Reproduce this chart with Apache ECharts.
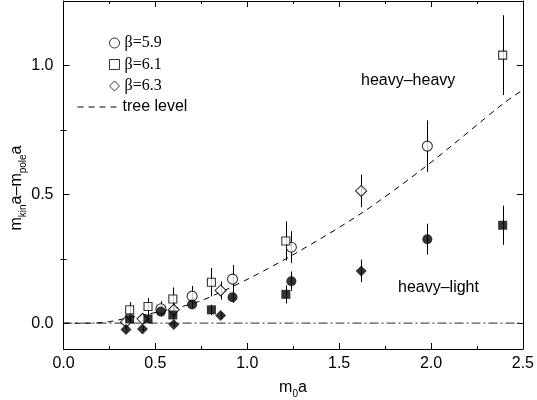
<!DOCTYPE html>
<html>
<head>
<meta charset="utf-8">
<script src="https://cdn.jsdelivr.net/npm/echarts@6/dist/echarts.min.js"></script>
<style>
html,body{margin:0;padding:0;background:#fff;}
#chart{width:537px;height:400px;}
</style>
</head>
<body>
<div id="chart"></div>
<script>
// ---- data ----
const xTickLabels = [0.0, 0.5, 1.0, 1.5, 2.0, 2.5];
const yTickLabels = [0.0, 0.5, 1.0];
const yMinorTicks = [0.25, 0.75];

// beta = 5.9 (circles)
const circleX = [0.53, 0.70, 0.92, 1.24, 1.98];
const hhCircle = [0.056, 0.105, 0.171, 0.295, 0.687];
const hhCircleErr = [0.03, 0.04, 0.055, 0.062, 0.10];
const hlCircle = [0.045, 0.073, 0.101, 0.163, 0.326];
const hlCircleErr = [0.012, 0.015, 0.022, 0.038, 0.06];

// beta = 6.1 (squares)
const squareX = [0.36, 0.46, 0.595, 0.805, 1.21, 2.39];
const hhSquare = [0.052, 0.065, 0.094, 0.159, 0.319, 1.04];
const hhSquareErr = [0.03, 0.033, 0.045, 0.055, 0.076, 0.155];
const hlSquare = [0.017, 0.017, 0.032, 0.052, 0.112, 0.38];
const hlSquareErr = [0.012, 0.012, 0.015, 0.02, 0.035, 0.076];

// beta = 6.3 (diamonds)
const diamondX = [0.34, 0.43, 0.60, 0.855, 1.62];
const hhDiamond = [0.005, 0.017, 0.052, 0.127, 0.513];
const hhDiamondErr = [0.02, 0.02, 0.025, 0.035, 0.063];
const hlDiamond = [-0.024, -0.022, -0.005, 0.03, 0.203];
const hlDiamondErr = [0.01, 0.01, 0.01, 0.012, 0.044];

// tree level curve
const treeX = [0, 0.15, 0.25, 0.32, 0.45, 0.63, 0.755, 1.008, 1.26, 1.62, 1.98, 2.395, 2.5];
const treeY = [0, 0, 0.006, 0.016, 0.034, 0.062, 0.089, 0.173, 0.27, 0.426, 0.613, 0.853, 0.905];

// zero reference line
const zeroX = [0, 2.5];
const zeroY = [0, 0];

// ---- chart ----
const chart = echarts.init(document.getElementById('chart'), null, {renderer: 'canvas'});
const SANS = 'Liberation Sans, Arial, sans-serif';
const SERIF = 'Liberation Serif, Times New Roman, serif';

function pairs(xs, ys) { return xs.map((x, i) => [x, ys[i]]); }
function errSeries(xs, ys, es) {
  return {
    type: 'custom', silent: true, z: 1,
    data: xs.map((x, i) => [x, ys[i] - es[i], ys[i] + es[i]]),
    encode: {x: 0, y: [1, 2]},
    renderItem: function (params, api) {
      const p1 = api.coord([api.value(0), api.value(1)]);
      const p2 = api.coord([api.value(0), api.value(2)]);
      const x = Math.round(p1[0]) + 0.5;
      return {type: 'line', shape: {x1: x, y1: p1[1], x2: x, y2: p2[1]},
              style: {stroke: '#000', lineWidth: 1}};
    }
  };
}
const openStyle = {color: '#fff', borderColor: '#000', borderWidth: 1.1};
const fillStyle = {color: '#000', borderColor: '#000', borderWidth: 0};

const xBase = {
  type: 'value', min: 0, max: 2.5, interval: 0.5,
  axisLine: {show: true, onZero: false, lineStyle: {color: '#000', width: 1}},
  axisTick: {show: true, inside: true, length: 6, lineStyle: {color: '#000'}},
  minorTick: {show: true, splitNumber: 2, length: 3, lineStyle: {color: '#000'}},
  splitLine: {show: false}, minorSplitLine: {show: false}
};
const yBase = {
  type: 'value', min: -0.1, max: 1.25,
  axisLine: {show: true, onZero: false, lineStyle: {color: '#000', width: 1}},
  splitLine: {show: false}
};

const option = {
  animation: false,
  backgroundColor: '#fff',
  grid: {left: 63.5, right: 11, top: 1, bottom: 51, show: false},
  xAxis: [
    Object.assign({}, xBase, {
      position: 'bottom',
      axisLabel: {show: true, margin: 7, color: '#000', fontFamily: SANS, fontSize: 16,
                  formatter: v => v.toFixed(1)}
    }),
    Object.assign({}, xBase, {position: 'top', axisLabel: {show: false}})
  ],
  yAxis: [
    Object.assign({}, yBase, {
      position: 'left',
      axisTick: {show: true, inside: true, length: 6, customValues: yTickLabels, lineStyle: {color: '#000'}},
      axisLabel: {show: true, margin: 10, color: '#000', fontFamily: SANS, fontSize: 16,
                  customValues: yTickLabels, formatter: v => Number(v).toFixed(1)}
    }),
    Object.assign({}, yBase, {
      position: 'left', axisLine: {show: false},
      axisTick: {show: true, inside: true, length: 3, customValues: yMinorTicks, lineStyle: {color: '#000'}},
      axisLabel: {show: false}
    }),
    Object.assign({}, yBase, {
      position: 'right',
      axisTick: {show: true, inside: true, length: 6, customValues: yTickLabels, lineStyle: {color: '#000'}},
      axisLabel: {show: false}
    }),
    Object.assign({}, yBase, {
      position: 'right', axisLine: {show: false},
      axisTick: {show: true, inside: true, length: 3, customValues: yMinorTicks, lineStyle: {color: '#000'}},
      axisLabel: {show: false}
    })
  ],
  legend: [
    {
      data: [
        {name: 'β=5.9', icon: 'circle'},
        {name: 'β=6.1', icon: 'rect'},
        {name: 'β=6.3', icon: 'diamond'}
      ],
      orient: 'vertical', left: 109, top: 35, padding: 0,
      itemWidth: 10, itemHeight: 10, itemGap: 5.5,
      itemStyle: {color: '#fff', borderColor: '#000', borderWidth: 1},
      textStyle: {fontFamily: SERIF, fontSize: 16, color: '#000', lineHeight: 16},
      selectedMode: false
    },
    {
      data: ['tree level'],
      orient: 'vertical', left: 77, top: 99, padding: 0,
      itemWidth: 40, itemHeight: 10,
      itemStyle: {opacity: 0},
      lineStyle: {color: '#000', width: 1, type: [6, 5]},
      textStyle: {fontFamily: SANS, fontSize: 16, color: '#000', lineHeight: 16},
      selectedMode: false
    }
  ],
  graphic: [
    {type: 'text', left: 361, top: 73,
     style: {text: 'heavy–heavy', fill: '#000', font: '16px ' + SANS}},
    {type: 'text', left: 398, top: 280,
     style: {text: 'heavy–light', fill: '#000', font: '16px ' + SANS}},
    {type: 'text', x: 17, y: 188, rotation: Math.PI / 2,
     style: {
       text: '{a|m}{s|kin}{a|a–m}{s|pole}{a|a}', align: 'center', verticalAlign: 'middle',
       rich: {
         a: {fontFamily: SANS, fontSize: 16, lineHeight: 16, verticalAlign: 'top', fill: '#000', color: '#000'},
         s: {fontFamily: SANS, fontSize: 10, lineHeight: 10, verticalAlign: 'top', padding: [9, 0, 0, 0], fill: '#000', color: '#000'}
       }
     }},
    {type: 'text', x: 293, y: 388,
     style: {
       text: '{a|m}{s|0}{a|a}', align: 'center', verticalAlign: 'middle',
       rich: {
         a: {fontFamily: SANS, fontSize: 16, lineHeight: 16, verticalAlign: 'top', fill: '#000', color: '#000'},
         s: {fontFamily: SANS, fontSize: 10, lineHeight: 10, verticalAlign: 'top', padding: [9, 0, 0, 0], fill: '#000', color: '#000'}
       }
     }}
  ],
  series: [
    {
      name: 'zero', type: 'line', data: pairs(zeroX, zeroY), symbol: 'none', silent: true, z: 1,
      lineStyle: {color: '#555', width: 1.2, type: [9, 3, 2, 3]}
    },
    {
      name: 'tree level', type: 'line', data: pairs(treeX, treeY), smooth: 0.3,
      symbol: 'none', showSymbol: false, silent: true, z: 1,
      itemStyle: {color: '#000'},
      lineStyle: {color: '#000', width: 1, type: [6, 5]}
    },
    errSeries(circleX, hhCircle, hhCircleErr),
    errSeries(circleX, hlCircle, hlCircleErr),
    errSeries(squareX, hhSquare, hhSquareErr),
    errSeries(squareX, hlSquare, hlSquareErr),
    errSeries(diamondX, hhDiamond, hhDiamondErr),
    errSeries(diamondX, hlDiamond, hlDiamondErr),
    {name: 'β=5.9', type: 'scatter', symbol: 'circle', symbolSize: 10, data: pairs(circleX, hhCircle), itemStyle: openStyle, z: 3},
    {name: 'β=6.1', type: 'scatter', symbol: 'rect', symbolSize: 8, data: pairs(squareX, hhSquare), itemStyle: openStyle, z: 3},
    {name: 'β=6.3', type: 'scatter', symbol: 'diamond', symbolSize: 11, data: pairs(diamondX, hhDiamond), itemStyle: openStyle, z: 3},
    {name: 'hl5.9', type: 'scatter', symbol: 'circle', symbolSize: 10, data: pairs(circleX, hlCircle), itemStyle: fillStyle, z: 4},
    {name: 'hl6.1', type: 'scatter', symbol: 'rect', symbolSize: 9, data: pairs(squareX, hlSquare), itemStyle: fillStyle, z: 4},
    {name: 'hl6.3', type: 'scatter', symbol: 'diamond', symbolSize: 11, data: pairs(diamondX, hlDiamond), itemStyle: fillStyle, z: 4}
  ]
};
chart.setOption(option);
</script>
</body>
</html>
